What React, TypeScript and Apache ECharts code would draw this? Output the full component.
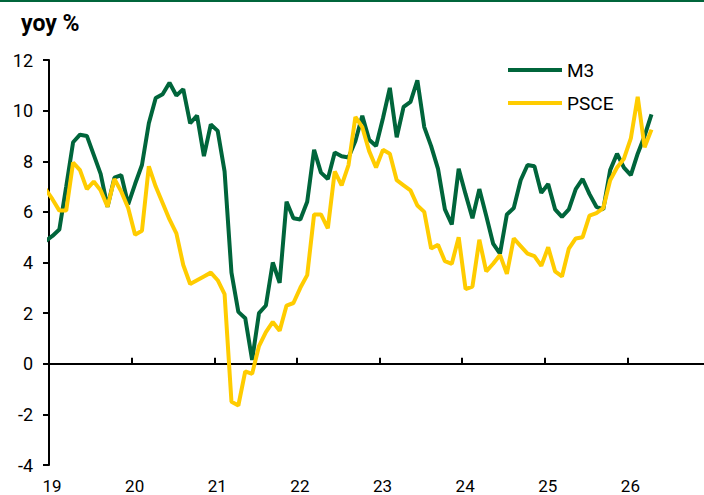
import React, { useEffect, useRef } from "react";
import * as echarts from "echarts";

// First observation: December 2018 (months since Jan 2019 = -1), monthly thereafter to April 2026
const FIRST_MONTH_OFFSET = -1;

const m3Values = [
  4.85, 5.05, 5.3, 7.0, 8.75, 9.05, 9.0, 8.25, 7.5, 6.2, 7.35, 7.45, 6.3,
  7.1, 7.85, 9.5, 10.5, 10.65, 11.1, 10.6, 10.85, 9.5, 9.8, 8.2, 9.45,
  9.2, 7.6, 3.6, 2.05, 1.8, 0.15, 2.0, 2.3, 4.0, 3.2, 6.4, 5.75,
  5.7, 6.4, 8.45, 7.55, 7.3, 8.35, 8.2, 8.15, 8.8, 9.8, 8.85, 8.6,
  9.7, 10.9, 8.95, 10.15, 10.35, 11.2, 9.35, 8.6, 7.7, 6.1, 5.5, 7.7,
  6.7, 5.75, 6.9, 5.85, 4.75, 4.35, 5.9, 6.15, 7.25, 7.85, 7.8, 6.75,
  7.1, 6.1, 5.8, 6.1, 6.9, 7.3, 6.7, 6.2, 6.1, 7.65, 8.3, 7.75,
  7.45, 8.3, 9.0, 9.85,
];

const psceValues = [
  6.9, 6.5, 6.05, 6.05, 7.95, 7.65, 6.9, 7.2, 6.85, 6.2, 7.3, 6.8, 6.15,
  5.1, 5.25, 7.8, 7.0, 6.35, 5.7, 5.15, 3.9, 3.15, 3.3, 3.45, 3.6,
  3.3, 2.75, -1.5, -1.65, -0.3, -0.4, 0.7, 1.25, 1.65, 1.3, 2.3, 2.4,
  3.0, 3.5, 5.9, 5.9, 5.35, 7.6, 7.05, 7.85, 9.75, 9.35, 8.4, 7.75,
  8.45, 8.3, 7.25, 7.05, 6.85, 6.25, 6.0, 4.55, 4.7, 4.05, 3.95, 5.0,
  2.95, 3.05, 4.9, 3.65, 3.95, 4.3, 3.55, 4.95, 4.65, 4.35, 4.25, 3.87,
  4.6, 3.65, 3.45, 4.55, 4.95, 5.0, 5.85, 5.95, 6.15, 7.25, 7.75, 8.1,
  8.9, 10.55, 8.55, 9.25,
];

const seriesNames = ["M3", "PSCE"];
const yTicks = { min: -4, max: 12, interval: 2 };
const xYears = { min: 19, max: 27, interval: 1 };

const GREEN = "#00653B";
const YELLOW = "#FFCC00";
const FONT = "Roboto";

const toPoints = (vals: number[]) =>
  vals.map((v, i) => [xYears.min + (FIRST_MONTH_OFFSET + i + 0.5) / 12, v]);

export default function App() {
  const ref = useRef<HTMLDivElement>(null);
  useEffect(() => {
    if (!ref.current) return;
    const chart = echarts.init(ref.current, undefined, { renderer: "svg" });
    chart.setOption({
      animation: false,
      title: {
        text: "yoy %",
        left: 21,
        top: 12,
        padding: 0,
        textStyle: { fontFamily: FONT, fontSize: 23, fontWeight: "bold", color: "#000" },
      },
      graphic: [
        {
          type: "rect",
          left: 0,
          top: 0,
          shape: { width: 704, height: 2 },
          style: { fill: GREEN },
        },
      ],
      legend: {
        data: seriesNames,
        orient: "vertical",
        left: 508,
        top: 60,
        padding: 0,
        icon: "rect",
        itemWidth: 54,
        itemHeight: 4,
        itemGap: 13,
        textStyle: { fontFamily: FONT, fontSize: 19, color: "#000", lineHeight: 20 },
      },
      grid: {
        left: 49,
        width: 661,
        top: 60,
        bottom: 30,
        containLabel: false,
        outerBoundsMode: "none",
      },
      xAxis: [
        {
          type: "value",
          min: xYears.min,
          max: xYears.max,
          interval: xYears.interval,
          axisLine: { onZero: true, lineStyle: { color: "#000", width: 2 } },
          axisTick: { inside: true, length: 6, lineStyle: { color: "#000", width: 2 } },
          axisLabel: { show: false },
          splitLine: { show: false },
        },
        {
          type: "value",
          min: xYears.min,
          max: xYears.max,
          interval: xYears.interval,
          position: "bottom",
          axisLine: { show: false, onZero: false },
          axisTick: { show: false },
          axisLabel: {
            fontFamily: FONT,
            fontSize: 17,
            lineHeight: 17,
            color: "#000",
            margin: 12,
            padding: [0, 0, 0, 6],
            formatter: (v: number) => (v >= xYears.max ? "" : String(v)),
          },
          splitLine: { show: false },
        },
      ],
      yAxis: {
        type: "value",
        min: yTicks.min,
        max: yTicks.max,
        interval: yTicks.interval,
        axisLine: { show: true, onZero: false, lineStyle: { color: "#000", width: 2 } },
        axisTick: { show: true, length: 6, lineStyle: { color: "#000", width: 2 } },
        axisLabel: { fontFamily: FONT, fontSize: 18, color: "#000", margin: 16 },
        splitLine: { show: false },
      },
      series: [
        {
          name: seriesNames[0],
          type: "line",
          xAxisIndex: 0,
          data: toPoints(m3Values),
          symbol: "none",
          lineStyle: { width: 4, color: GREEN },
          itemStyle: { color: GREEN },
          clip: true,
        },
        {
          name: seriesNames[1],
          type: "line",
          xAxisIndex: 0,
          data: toPoints(psceValues),
          symbol: "none",
          lineStyle: { width: 4, color: YELLOW },
          itemStyle: { color: YELLOW },
          clip: true,
        },
      ],
    });
    return () => chart.dispose();
  }, []);
  return (
    <div
      ref={ref}
      style={{ position: "fixed", left: 0, top: 0, width: 704, height: 495, background: "#fff" }}
    />
  );
}
